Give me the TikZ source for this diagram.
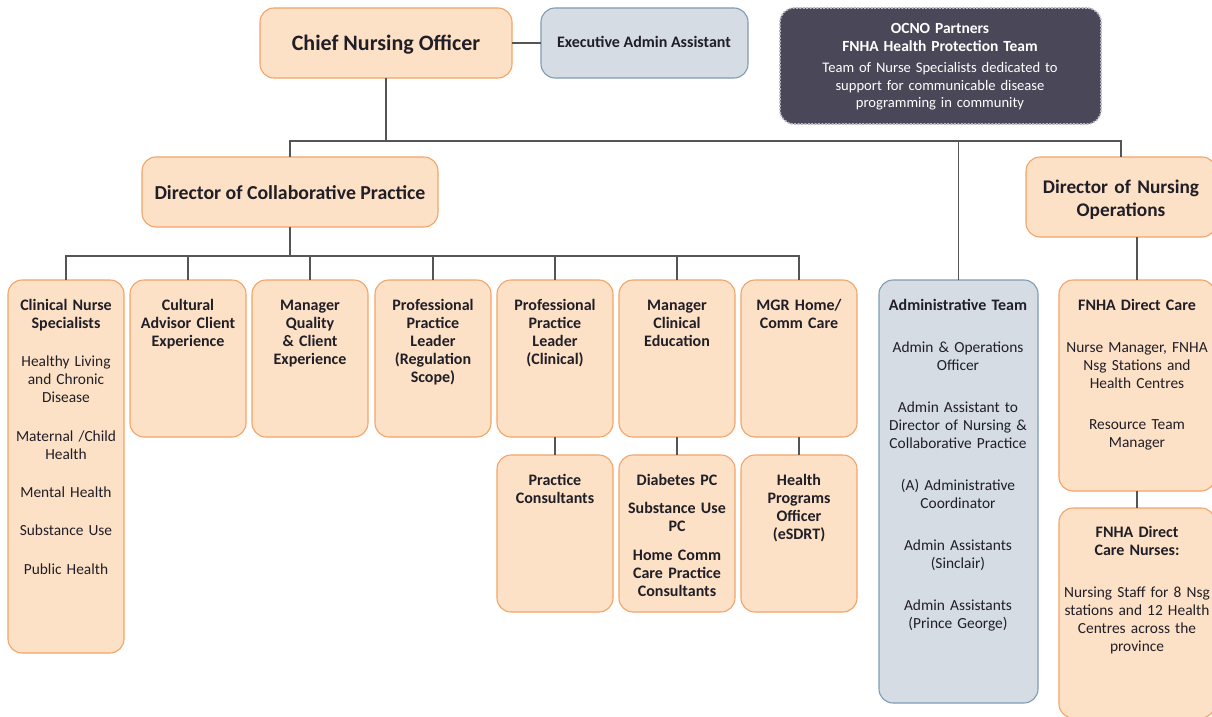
\documentclass[tikz,border=0pt]{standalone}
\usepackage{fontspec}
\setmainfont{Carlito}
\definecolor{peach}{HTML}{FDE1C7}
\definecolor{orangeB}{HTML}{F3A366}
\definecolor{blueF}{HTML}{D5DCE4}
\definecolor{blueB}{HTML}{7F9CB4}
\definecolor{darkF}{HTML}{4A4858}
\definecolor{darkB}{HTML}{B9B8C2}
\definecolor{ink}{HTML}{201E26}
\definecolor{lineC}{HTML}{555555}
\newcommand{\bx}[1]{{\fontsize{16}{18}\selectfont\bfseries #1}}
\begin{document}
\begin{tikzpicture}[x=1pt,y=-1pt,
  obox/.style={draw=orangeB,fill=peach,line width=1.1pt,rounded corners=14pt,anchor=north west,inner sep=0pt,outer sep=0pt},
  bbox/.style={draw=blueB,fill=blueF,line width=1.1pt,rounded corners=14pt,anchor=north west,inner sep=0pt,outer sep=0pt},
  dbox/.style={draw=darkB,fill=darkF,line width=1.6pt,dash pattern=on 2pt off 1.4pt,rounded corners=14pt,anchor=north west,inner sep=0pt,outer sep=0pt},
  conn/.style={draw=lineC,line width=1.3pt},
  txt/.style={align=center,anchor=base,inner sep=0pt,text=ink,font=\fontsize{15.4}{18}\selectfont},
  btxt/.style={txt,font=\fontsize{16}{18}\selectfont\bfseries},
]
\useasboundingbox (0,0) rectangle (1212,717);

% top level
\node[obox,minimum width=252pt,minimum height=70pt] (cno) at (260,8) {};
\node[bbox,minimum width=207pt,minimum height=70pt] (exa) at (541,8) {};
\node[dbox,minimum width=321pt,minimum height=116pt] (ocno) at (780,8) {};
\node[txt,font=\fontsize{22}{24}\selectfont\bfseries] (tcno) at (386,51) {Chief Nursing Officer};
\node[txt,font=\fontsize{16}{18}\selectfont\bfseries] (texa) at (644,48) {Executive Admin Assistant};
\node[txt,text=white,text width=315pt,font=\fontsize{14.6}{17.5}\selectfont] (tocno) at (940,34)
 {{\fontsize{15.5}{18}\selectfont\bfseries OCNO Partners\\FNHA Health Protection Team}\\[4pt]Team of Nurse Specialists dedicated to\\support for communicable disease\\programming in community};

% directors
\node[obox,minimum width=296pt,minimum height=70pt] (dcp) at (142,157) {};
\node[obox,minimum width=190pt,minimum height=80pt] (dno) at (1026,157) {};
\node[txt,font=\fontsize{19.8}{22}\selectfont\bfseries] (tdcp) at (290,199) {Director of Collaborative Practice};
\node[txt,text width=188pt,font=\fontsize{19.3}{23}\selectfont\bfseries] (tdno) at (1121,193) {Director of Nursing\\Operations};

% row boxes
\node[obox,minimum width=116pt,minimum height=373pt] (b1) at (8,280) {};
\node[obox,minimum width=116pt,minimum height=157pt] (b2) at (130,280) {};
\node[obox,minimum width=116pt,minimum height=157pt] (b3) at (252,280) {};
\node[obox,minimum width=116pt,minimum height=157pt] (b4) at (375,280) {};
\node[obox,minimum width=116pt,minimum height=157pt] (b5) at (497,280) {};
\node[obox,minimum width=116pt,minimum height=157pt] (b6) at (619,280) {};
\node[obox,minimum width=116pt,minimum height=157pt] (b7) at (741,280) {};
\node[obox,minimum width=116pt,minimum height=157pt] (c5) at (497,455) {};
\node[obox,minimum width=116pt,minimum height=157pt] (c6) at (619,455) {};
\node[obox,minimum width=116pt,minimum height=157pt] (c7) at (741,455) {};
\node[bbox,minimum width=159pt,minimum height=423pt] (adm) at (879,280) {};
\node[obox,minimum width=156pt,minimum height=211pt] (fdc) at (1059,280) {};
\node[obox,minimum width=156pt,minimum height=210pt] (fdn) at (1059,508) {};

% texts
\node[txt,text width=116pt] (t1) at (66,310) {\bx{Clinical Nurse}\\\bx{Specialists}\\[20pt]Healthy Living\\and Chronic\\Disease\\[21pt]Maternal /Child\\Health\\[20pt]Mental Health\\[20pt]Substance Use\\[21pt]Public Health};
\node[btxt,text width=116pt] (t2) at (188,310) {Cultural\\Advisor Client\\Experience};
\node[btxt,text width=116pt] (t3) at (310,310) {Manager\\Quality\\\& Client\\Experience};
\node[btxt,text width=116pt] (t4) at (433,310) {Professional\\Practice\\Leader\\(Regulation\\Scope)};
\node[btxt,text width=116pt] (t5) at (555,310) {Professional\\Practice\\Leader\\(Clinical)};
\node[btxt,text width=116pt] (t6) at (677,310) {Manager\\Clinical\\Education};
\node[btxt,text width=116pt] (t7) at (799,310) {MGR Home/\\Comm Care};
\node[btxt,text width=116pt] (u5) at (555,485) {Practice\\Consultants};
\node[btxt,text width=116pt] (u6) at (677,485) {Diabetes PC\\[10pt]Substance Use\\PC\\[11pt]Home Comm\\Care Practice\\Consultants};
\node[btxt,text width=116pt] (u7) at (799,485) {Health\\Programs\\Officer\\(eSDRT)};
\node[txt,text width=159pt] (tadm) at (958,310) {\bx{Administrative Team}\\[24pt]Admin \& Operations\\Officer\\[24pt]Admin Assistant to\\Director of Nursing \&\\Collaborative Practice\\[24pt](A) Administrative\\Coordinator\\[24pt]Admin Assistants\\(Sinclair)\\[24pt]Admin Assistants\\(Prince George)};
\node[txt,text width=156pt] (tfdc) at (1137,310) {\bx{FNHA Direct Care}\\[24pt]Nurse Manager, FNHA\\Nsg Stations and\\Health Centres\\[23pt]Resource Team\\Manager};
\node[txt,text width=156pt] (tfdn) at (1137,537) {\bx{FNHA Direct}\\\bx{Care Nurses:}\\[24pt]Nursing Staff for 8 Nsg\\stations and 12 Health\\Centres across the\\province};

% connectors
\coordinate (bus1) at (386,141);
\coordinate (bus2) at (290,256);
\draw[conn] (cno.east) -- (exa.west);
\draw[conn] (cno.south) -- (bus1);
\draw[conn] (dcp.north) -- (dcp.north |- bus1) -- (dno.north |- bus1) -- (dno.north);
\draw[conn] (adm.north) -- (adm.north |- bus1);
\draw[conn] (dcp.south) -- (bus2);
\draw[conn] (b1.north) -- (b1.north |- bus2) -- (b7.north |- bus2) -- (b7.north);
\foreach \b in {b2,b3,b4,b5,b6} \draw[conn] (\b.north) -- (\b.north |- bus2);
\draw[conn] (b5.south) -- (c5.north);
\draw[conn] (b6.south) -- (c6.north);
\draw[conn] (b7.south) -- (c7.north);
\draw[conn] (fdc.north) -- (fdc.north |- dno.south);
\draw[conn] (fdc.south) -- (fdn.north);
\end{tikzpicture}
\end{document}
